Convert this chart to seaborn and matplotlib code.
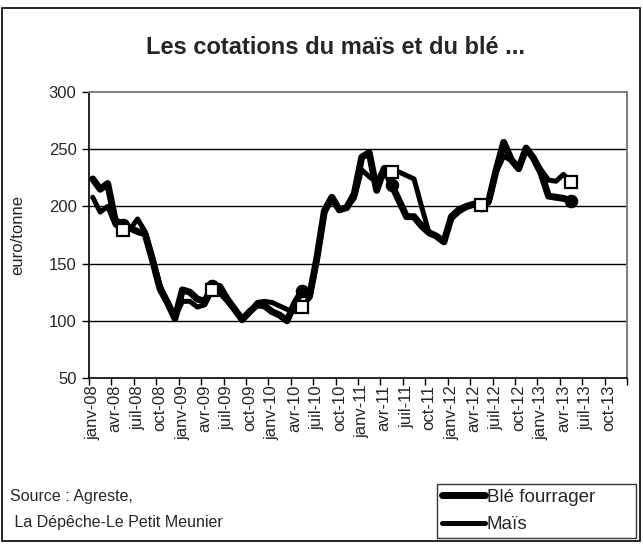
import matplotlib
matplotlib.use("Agg")
import matplotlib.pyplot as plt
import seaborn as sns
import pandas as pd
import numpy as np
from matplotlib.lines import Line2D
from matplotlib.patches import Rectangle

# ---- data ----
tick_labels = ["janv-08", "avr-08", "juil-08", "oct-08",
               "janv-09", "avr-09", "juil-09", "oct-09",
               "janv-10", "avr-10", "juil-10", "oct-10",
               "janv-11", "avr-11", "juil-11", "oct-11",
               "janv-12", "avr-12", "juil-12", "oct-12",
               "janv-13", "avr-13", "juil-13", "oct-13"]

ble = [224, 215, 220, 188, 184, 181, 178, 176, 153, 128, 116, 102,
       127, 125, 119, 117, 130, 130, 119, 110, 101, 108, 114, 113,
       108, 105, 100, 115, 126, 121, 155, 196, 208, 197, 199, 211,
       243, 247, 214, 233, 219, 205, 191, 191, 183, 177, 174, 169,
       191, 197, 200, 202, 201, 205, 232, 256, 241, 233, 251, 242,
       229, 209, 208, 207, 205]
mais = [208, 195, 200, 184, 179, 180, 189, 178, 156, 131, 117, 103,
        117, 117, 112, 114, 127, 124, 117, 109, 101, 107, 116, 117,
        116, 113, 110, 108, 112, 120, 152, 194, 206, 198, 199, 207,
        232, 226, 221, 234, 230, 230, 227, 224, 200, 177, 174, 170,
        189, 195, 199, 201, 201, 203, 230, 244, 240, 232, 249, 243,
        232, 223, 222, 228, 221]

n_categories = 72
marker_months = [4, 16, 28, 40, 52, 64]

df = pd.DataFrame({"mois": np.arange(len(ble)), "ble": ble, "mais": mais})

sns.set_theme(style="white")
plt.rcParams["font.family"] = ["Liberation Sans", "DejaVu Sans"]

FS = 12

fig = plt.figure(figsize=(6.43, 5.44), dpi=100)
ax = fig.add_axes([89 / 643, 1 - 378 / 544, 538 / 643, 286 / 544])

# gridlines
for v in [100, 150, 200, 250]:
    ax.axhline(v, color="black", lw=1.0, zorder=1)

sns.lineplot(data=df, x="mois", y="ble", ax=ax, color="black", lw=5.0,
             marker="o", markersize=9, markevery=marker_months,
             markerfacecolor="black", markeredgecolor="black",
             solid_joinstyle="round", zorder=3)
sns.lineplot(data=df, x="mois", y="mais", ax=ax, color="black", lw=3.6,
             marker="s", markersize=8.5, markevery=marker_months,
             markerfacecolor="white", markeredgecolor="black", markeredgewidth=1.6,
             solid_joinstyle="round", zorder=4)

ax.set_xlim(-0.5, n_categories - 0.5)
ax.set_ylim(50, 300)
ax.set_yticks([50, 100, 150, 200, 250, 300])
ax.set_yticklabels(["50", "100", "150", "200", "250", "300"], fontsize=FS)

label_pos = np.arange(0, n_categories, 3)
ax.set_xticks(label_pos)
ax.set_xticklabels(tick_labels, rotation=90, fontsize=FS)
ax.set_xticks(np.arange(-0.5, n_categories, 3), minor=True)
ax.tick_params(axis="x", which="major", length=0, pad=5)
ax.tick_params(axis="x", which="minor", length=5, width=1, color="black", direction="out", bottom=True)
ax.tick_params(axis="y", length=5, width=1, color="black", direction="out", left=True, pad=4)
ax.set_xlabel("")
ax.set_ylabel("")

for s in ["top", "right"]:
    ax.spines[s].set_color("#808080")
    ax.spines[s].set_linewidth(1.5)
for s in ["left", "bottom"]:
    ax.spines[s].set_color("black")
    ax.spines[s].set_linewidth(1.2)

fig.text(18 / 643, 1 - 235 / 544, "euro/tonne", rotation=90, ha="center", va="center", fontsize=FS)
fig.text(335 / 643, 1 - 47 / 544, "Les cotations du maïs et du blé ...", ha="center", va="center",
         fontsize=17, fontweight="bold")
fig.text(10 / 643, 1 - 497 / 544, "Source : Agreste,", ha="left", va="center", fontsize=11.5)
fig.text(10 / 643, 1 - 523 / 544, " La Dépêche-Le Petit Meunier", ha="left", va="center", fontsize=11.5)

handles = [Line2D([0], [0], color="black", lw=5.0), Line2D([0], [0], color="black", lw=3.6)]
x0, x1 = 437 / 643, 636 / 643
y0, y1 = 1 - 538 / 544, 1 - 484 / 544
leg = fig.legend(handles, ["Blé fourrager", "Maïs"], loc="lower left", mode="expand",
                 bbox_to_anchor=(x0, y0, x1 - x0, y1 - y0), frameon=True, fancybox=False,
                 edgecolor="black", fontsize=13.5, handlelength=2.3, handletextpad=0.1,
                 borderpad=0.25, labelspacing=0.55, borderaxespad=0)
leg.get_frame().set_linewidth(1.0)

fig.patches.append(Rectangle((2 / 643, 3 / 544), 638 / 643, 533 / 544, transform=fig.transFigure,
                             fill=False, edgecolor="black", lw=1.2))

fig.savefig("out.png", dpi=100)
